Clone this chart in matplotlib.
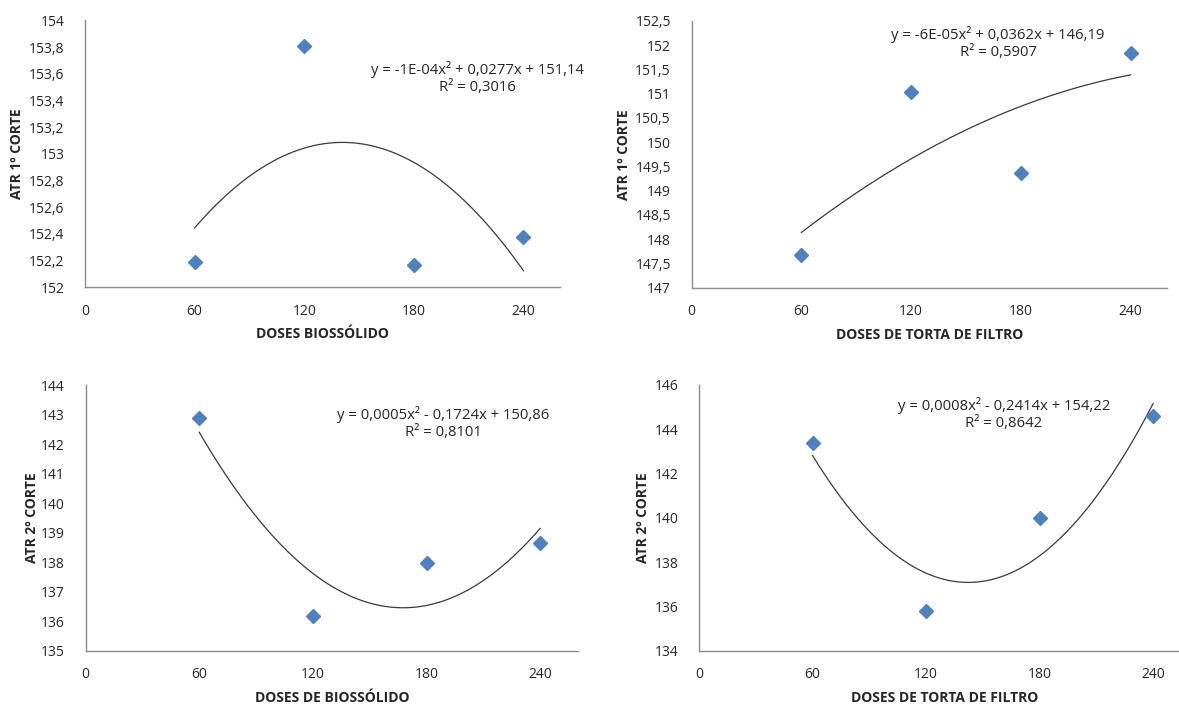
import matplotlib
matplotlib.use("Agg")
import matplotlib.pyplot as plt
import numpy as np
from matplotlib.ticker import FuncFormatter

plt.rcParams["font.family"] = ["Open Sans", "DejaVu Sans"]

MARKER = "#4f81bd"
CURVE = "#3a3a3a"
AXIS = "#8c8c8c"
TEXT = "#262626"

doses = [60, 120, 180, 240]

atr1_bio = [152.19, 153.81, 152.17, 152.38]
atr1_torta = [147.68, 151.04, 149.36, 151.85]
atr2_bio = [142.88, 136.17, 137.98, 138.66]
atr2_torta = [143.38, 135.81, 139.98, 144.60]

eq_labels = [
    "y = -1E-04x² + 0,0277x + 151,14\nR² = 0,3016",
    "y = -6E-05x² + 0,0362x + 146,19\nR² = 0,5907",
    "y = 0,0005x² - 0,1724x + 150,86\nR² = 0,8101",
    "y = 0,0008x² - 0,2414x + 154,22\nR² = 0,8642",
]
xlabels = ["DOSES BIOSSÓLIDO", "DOSES DE TORTA DE FILTRO",
           "DOSES DE BIOSSÓLIDO", "DOSES DE TORTA DE FILTRO"]
ylabels = ["ATR 1º CORTE", "ATR 1º CORTE", "ATR 2º CORTE", "ATR 2º CORTE"]
yticks = [np.arange(152, 154.01, 0.2), np.arange(147, 152.51, 0.5),
          np.arange(135, 144.01, 1), np.arange(134, 146.01, 2)]

W, H = 1179, 707
fig = plt.figure(figsize=(W / 100, H / 100), dpi=100)
fig.patch.set_facecolor("white")


def px(left, right, top, bottom):
    return [left / W, 1 - bottom / H, (right - left) / W, (bottom - top) / H]


# axes boxes in pixels: left, right, top, bottom
boxes = [px(85, 560, 20.5, 287.3), px(691.7, 1167.3, 21, 287.7),
         px(85.7, 578, 385, 650.7), px(699, 1191, 385, 650.7)]
eq_pos = [(477, 78), (998, 43), (443, 423), (1004, 414)]
ylab_x = [17, 624, 32, 643]
series = [atr1_bio, atr1_torta, atr2_bio, atr2_torta]


def comma(v, pos):
    return f"{v:g}".replace(".", ",")


for i in range(4):
    ax = fig.add_axes(boxes[i])
    y = series[i]
    coef = np.polyfit(doses, y, 2)
    xs = np.linspace(doses[0], doses[-1], 200)
    ax.plot(xs, np.polyval(coef, xs), color=CURVE, lw=0.9, zorder=2)
    ax.plot(doses, y, "D", color=MARKER, markersize=7.2, mec=MARKER, zorder=3,
            clip_on=False)

    ax.set_xlim(0, 260)
    ax.set_ylim(yticks[i][0], yticks[i][-1])
    ax.set_xticks([0, 60, 120, 180, 240])
    ax.set_yticks(yticks[i])
    ax.yaxis.set_major_formatter(FuncFormatter(comma))
    ax.tick_params(length=0, labelsize=10, colors=TEXT)
    ax.tick_params(axis="y", pad=15)
    ax.tick_params(axis="x", pad=12)
    for s in ("top", "right"):
        ax.spines[s].set_visible(False)
    for s in ("left", "bottom"):
        ax.spines[s].set_color(AXIS)
        ax.spines[s].set_linewidth(1.0)

    ax.set_xlabel(xlabels[i], fontsize=10, fontweight="bold", color=TEXT,
                  labelpad=6)
    b = boxes[i]
    fig.text(ylab_x[i] / W, b[1] + b[3] / 2, ylabels[i], rotation=90,
             ha="center", va="center", fontsize=10, fontweight="bold",
             color=TEXT)

    ex, ey = eq_pos[i]
    fig.text(ex / W, 1 - ey / H, eq_labels[i], ha="center", va="center",
             fontsize=10.7, color=TEXT, linespacing=1.2, multialignment="center")

fig.savefig("out.png", dpi=100, facecolor="white")
